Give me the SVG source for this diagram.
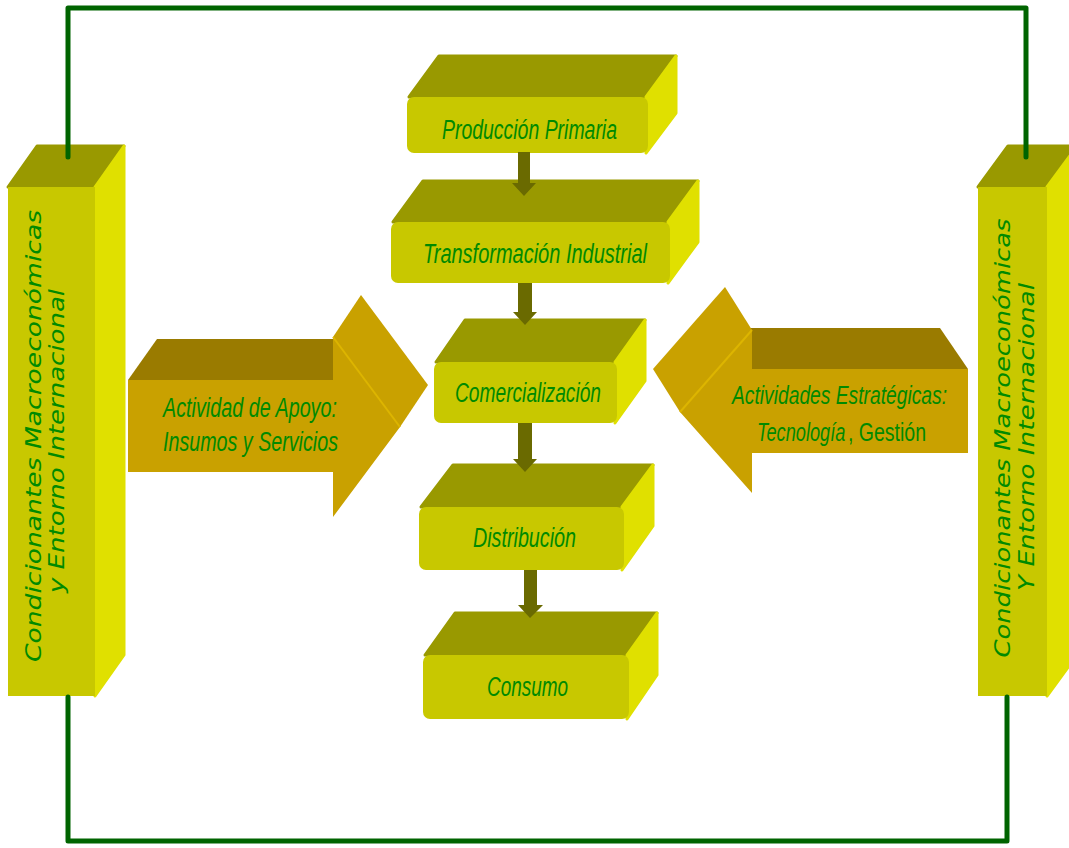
<svg xmlns="http://www.w3.org/2000/svg" width="1069" height="848" viewBox="0 0 1069 848">
<style>
.front{fill:#C8C800}
.top{fill:#999900;stroke:#999900;stroke-width:3;stroke-linejoin:round}
.side{fill:#E0E000;stroke:#E0E000;stroke-width:3;stroke-linejoin:round}
.gfront{fill:#C9A100}
.gtop{fill:#9A7B00}
.gside{fill:#C9A100}
.gedge{stroke:#DDB500;stroke-width:2;fill:none}
.frame{fill:none;stroke:#006400;stroke-width:5;stroke-linecap:round;stroke-linejoin:round}
.arr{fill:#6A6A00}
.lbl{font-family:"Liberation Sans",Arial,sans-serif;font-style:italic;font-size:27px;fill:#008A00}
.sm{font-size:26px}
.up{font-style:normal}
.pil{font-family:"DejaVu Sans",Verdana,sans-serif;font-style:oblique;font-size:22px;fill:#008A00}
</style>
<rect width="1069" height="848" fill="#FFFFFF"/>

<g id="pillar-left">
  <polygon class="top" points="8,187 37,146 124,146 95,187"/>
  <polygon class="side" points="95,187 124,146 124,655 95,696"/>
  <rect class="front" x="8" y="187" width="87" height="509"/>
  <text class="pil" text-anchor="middle" transform="translate(41,436) rotate(-90)" textLength="452" lengthAdjust="spacingAndGlyphs">Condicionantes  Macroeconómicas</text>
  <text class="pil" text-anchor="middle" transform="translate(64,441) rotate(-90)" textLength="304" lengthAdjust="spacingAndGlyphs">y Entorno Internacional</text>
</g>

<g id="pillar-right">
  <polygon class="top" points="978,187 1008,146 1077,146 1047,187"/>
  <polygon class="side" points="1047,187 1077,146 1077,655 1047,696"/>
  <rect class="front" x="978" y="187" width="69" height="509"/>
  <text class="pil" text-anchor="middle" transform="translate(1010,438) rotate(-90)" textLength="439" lengthAdjust="spacingAndGlyphs">Condicionantes Macroeconómicas</text>
  <text class="pil" text-anchor="middle" transform="translate(1034,437) rotate(-90)" textLength="308" lengthAdjust="spacingAndGlyphs">Y Entorno Internacional</text>
</g>

<g id="box-produccion">
  <polygon class="top" points="409,97 439,56 676,56 648,97"/>
  <polygon class="side" points="646,97 676,56 676,113 646,153"/>
  <rect class="front" x="407" y="97" width="241" height="56" rx="7"/>
  <text class="lbl" x="442" y="139" textLength="175" lengthAdjust="spacingAndGlyphs">Producción Primaria</text>
</g>

<g id="box-transformacion">
  <polygon class="top" points="393,222 423,181 698,181 670,222"/>
  <polygon class="side" points="668,222 698,181 698,242 668,283"/>
  <rect class="front" x="391" y="222" width="279" height="61" rx="7"/>
  <text class="lbl" x="423" y="263" textLength="224" lengthAdjust="spacingAndGlyphs">Transformación Industrial</text>
</g>

<g id="box-comercializacion">
  <polygon class="top" points="436,362 465,320 645,320 617,362"/>
  <polygon class="side" points="615,362 645,320 645,381 615,423"/>
  <rect class="front" x="434" y="362" width="183" height="61" rx="7"/>
  <text class="lbl" x="455" y="402" textLength="146" lengthAdjust="spacingAndGlyphs">Comercialización</text>
</g>

<g id="box-distribucion">
  <polygon class="top" points="421,507 453,465 653,465 624,507"/>
  <polygon class="side" points="622,507 653,465 653,526 622,570"/>
  <rect class="front" x="419" y="507" width="205" height="63" rx="7"/>
  <text class="lbl" x="473" y="547" textLength="103" lengthAdjust="spacingAndGlyphs">Distribución</text>
</g>

<g id="box-consumo">
  <polygon class="top" points="425,655 455,613 657,613 629,655"/>
  <polygon class="side" points="627,655 657,613 657,675 627,719"/>
  <rect class="front" x="423" y="655" width="206" height="64" rx="7"/>
  <text class="lbl" x="487" y="696" textLength="81" lengthAdjust="spacingAndGlyphs">Consumo</text>
</g>

<g id="arrow-apoyo">
  <polygon class="gtop" points="128,380 157,339 350,339 333,380"/>
  <polygon class="gside" points="333,337 361,295 428,385 400,427"/>
  <polygon class="gfront" points="128,380 333,380 333,337 400,427 333,517 333,472 128,472"/>
  <line class="gedge" x1="333" y1="337" x2="400" y2="427"/>
  <text class="lbl" x="163" y="417" textLength="174" lengthAdjust="spacingAndGlyphs">Actividad de Apoyo:</text>
  <text class="lbl" x="163" y="451" textLength="175" lengthAdjust="spacingAndGlyphs">Insumos y Servicios</text>
</g>

<g id="arrow-estrategicas">
  <polygon class="gtop" points="968,369 940,328 740,328 752,369"/>
  <polygon class="gside" points="752,330 725,287 653,369 680,412"/>
  <polygon class="gfront" points="968,369 752,369 752,330 680,412 752,493 752,453 968,453"/>
  <line class="gedge" x1="752" y1="330" x2="680" y2="412"/>
  <text class="lbl sm" x="732" y="404" textLength="215" lengthAdjust="spacingAndGlyphs">Actividades Estratégicas:</text>
  <text class="lbl sm" transform="translate(757,441) scale(0.70,1)">Tecnología</text>
  <text class="lbl sm up" transform="translate(848,441) scale(0.75,1)">, Gestión</text>
</g>

<g id="connectors">
  <polyline class="frame" points="68,157 68,8 1026,8 1026,157"/>
  <polyline class="frame" points="68,697 68,841 1007,841 1007,697"/>
  <polygon class="arr" points="518,152 530,152 530,183 536,183 524,196 512,183 518,183"/>
  <polygon class="arr" points="518,283 532,283 532,312 537,312 525,325 513,312 518,312"/>
  <polygon class="arr" points="518,423 532,423 532,459 537,459 525,472 513,459 518,459"/>
  <polygon class="arr" points="524,570 537,570 537,605 543,605 530,618 518,605 524,605"/>
</g>
</svg>
